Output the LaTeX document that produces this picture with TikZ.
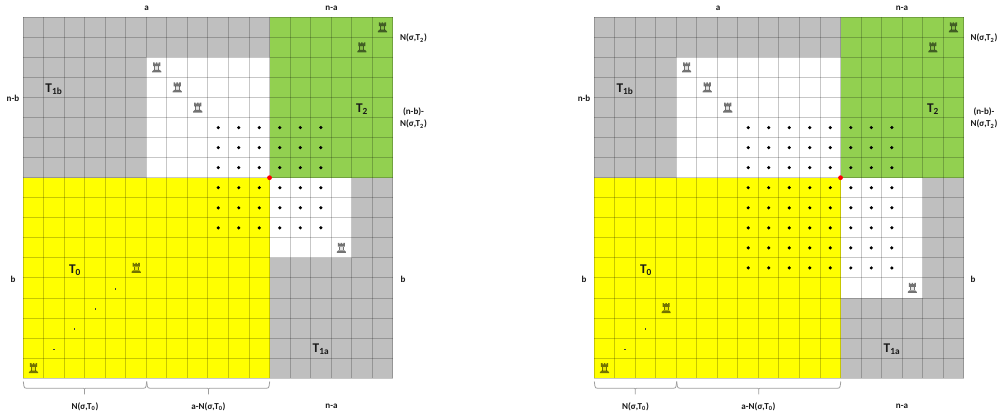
\documentclass[tikz,border=0pt]{standalone}
\usepackage{fontspec}
\setmainfont{Carlito}
\definecolor{cellgray}{HTML}{BFBFBF}
\definecolor{cellgreen}{HTML}{92D050}
\definecolor{cellyellow}{HTML}{FFFF00}
\tikzset{
  lbl/.style={font=\fontsize{6.8pt}{8pt}\selectfont\bfseries,text=black!90,inner sep=0pt,align=center},
  tlbl/.style={font=\fontsize{10pt}{10pt}\selectfont\bfseries,text=black!90,inner sep=0pt},
  griddot/.style={fill=black,draw=none,circle,minimum size=2.6pt,inner sep=0pt},
  tinydot/.style={fill=black!75,draw=none,rectangle,minimum size=.9pt,inner sep=0pt},
  gridline/.style={draw=black,draw opacity=.22,line width=.75pt},
  bracket/.style={draw=black!38,line width=.6pt,line join=round},
  reddot/.style={fill=red,draw=none,circle,minimum size=3.6pt,inner sep=0pt},
  rookdark/.style={fill=black,fill opacity=.55,draw=none},
  rooklight/.style={fill=black,fill opacity=.1,draw=none}
}
\newcommand{\RookMark}[2]{%
  \begin{scope}[shift={(#1+.5,#2+.5)},x=.75pt,y=-.75pt]
    \fill[rookdark] (-4.6,5) -- (4.6,5) -- (4.6,4) -- (3,2.4) -- (-3,2.4) -- (-4.6,4) -- cycle;
    \fill[rooklight] (-1.5,2.4) rectangle (1.5,-1.2);
    \fill[rookdark] (-2.4,2.4) rectangle (-1.5,-1.2);
    \fill[rookdark] (1.5,2.4) rectangle (2.4,-1.2);
    \fill[rookdark] (-3.6,-1.2) -- (3.6,-1.2) -- (3.6,-5) -- (2,-5) -- (2,-3.9) -- (.8,-3.9) -- (.8,-5)
      -- (-.8,-5) -- (-.8,-3.9) -- (-2,-3.9) -- (-2,-5) -- (-3.6,-5) -- cycle;
  \end{scope}
}
\newcommand{\Panel}[7]{% x-offset, first white col, white row end, dot col, dot last row, rooks, tiny dots
  \begin{scope}[shift={(#1,17.3)},x=15.39pt,y=-15.0375pt]
    \fill[cellgray] (0,0) rectangle (12,8);
    \fill[white] (#2,2) rectangle (12,8);
    \fill[cellgreen] (12,0) rectangle (18,8);
    \fill[cellyellow] (0,8) rectangle (12,18);
    \fill[cellgray] (12,8) rectangle (18,18);
    \fill[white] (12,8) rectangle (16,#3);
    \foreach \k in {0,...,18} {
      \draw[gridline] (\k,0) -- (\k,18);
      \draw[gridline] (0,\k) -- (18,\k);
    }
    \foreach \c in {#4,...,14} \foreach \r in {5,...,#5}
      \node[griddot] at (\c+.5,\r+.5) {};
    \foreach \c/\r in {#6}
      \RookMark{\c}{\r}
    \foreach \c/\r in {#7}
      \node[tinydot] at (\c+.5,\r+.55) {};
    \node[reddot] at (12,8) {};
  \end{scope}
}
\newcommand{\Brace}[3]{% from, tip, to (px)
  \draw[bracket] (#1,381.5) -- (#1+.6,386) .. controls (#1+.9,387.8) and (#1+1.5,388.2) .. (#1+3,388.2)
    -- (#2-1,388.2) -- (#2,389) -- (#2,394.3) (#2,389) -- (#2+1,388.2)
    -- (#3-3,388.2) .. controls (#3-1.5,388.2) and (#3-.9,387.8) .. (#3-.6,386) -- (#3,381.5);
}
\begin{document}
\begin{tikzpicture}[x=.75pt,y=-.75pt]
\useasboundingbox (0,0) rectangle (999,417);
\Panel{23.3}{6}{12}{9}{10}{17/0,16/1,6/2,7/3,8/4,15/11,5/12,0/17}{4/13,3/14,2/15,1/16}
\Panel{594.3}{4}{14}{7}{12}{17/0,16/1,4/2,5/3,6/4,15/13,3/14,0/17}{2/15,1/16}
\Brace{23.3}{84.5}{146.7}
\Brace{146.7}{208.5}{269.7}
\Brace{594.3}{635.3}{676.7}
\Brace{676.7}{758.7}{840.8}
% left panel labels
\node[lbl] (la) at (146.5,8) {a};
\node[lbl] (lna) at (331.5,8) {n-a};
\node[lbl] (lnb) at (13,98) {n-b};
\node[lbl] (lb) at (13,279) {b};
\node[lbl] (lbr) at (403,279) {b};
\node[lbl] (ln2) at (413.5,38) {N(σ,T\textsubscript{2})};
\node[lbl] (lnb2) at (413.5,118) {(n-b)-\\[1.4pt]N(σ,T\textsubscript{2})};
\node[tlbl] (lt1b) at (54,89) {T\textsubscript{1b}};
\node[tlbl] (lt2) at (362,109) {T\textsubscript{2}};
\node[tlbl] (lt0) at (75,270) {T\textsubscript{0}};
\node[tlbl] (lt1a) at (321,349.5) {T\textsubscript{1a}};
\node[lbl] (ln0) at (85,406.5) {N(σ,T\textsubscript{0})};
\node[lbl] (lan0) at (208.5,406.5) {a-N(σ,T\textsubscript{0})};
\node[lbl] (lnab) at (331.5,406) {n-a};
% right panel labels
\node[lbl] (ra) at (718,8) {a};
\node[lbl] (rna) at (902,8) {n-a};
\node[lbl] (rnb) at (584,98) {n-b};
\node[lbl] (rb) at (584,279) {b};
\node[lbl] (rbr) at (973,279) {b};
\node[lbl] (rn2) at (984,38) {N(σ,T\textsubscript{2})};
\node[lbl] (rnb2) at (984,118) {(n-b)-\\[1.4pt]N(σ,T\textsubscript{2})};
\node[tlbl] (rt1b) at (625,89) {T\textsubscript{1b}};
\node[tlbl] (rt2) at (933,109) {T\textsubscript{2}};
\node[tlbl] (rt0) at (646,270) {T\textsubscript{0}};
\node[tlbl] (rt1a) at (892,349.5) {T\textsubscript{1a}};
\node[lbl] (rn0) at (635.5,406.5) {N(σ,T\textsubscript{0})};
\node[lbl] (ran0) at (758.5,406.5) {a-N(σ,T\textsubscript{0})};
\node[lbl] (rnab) at (902,406) {n-a};
\end{tikzpicture}
\end{document}
